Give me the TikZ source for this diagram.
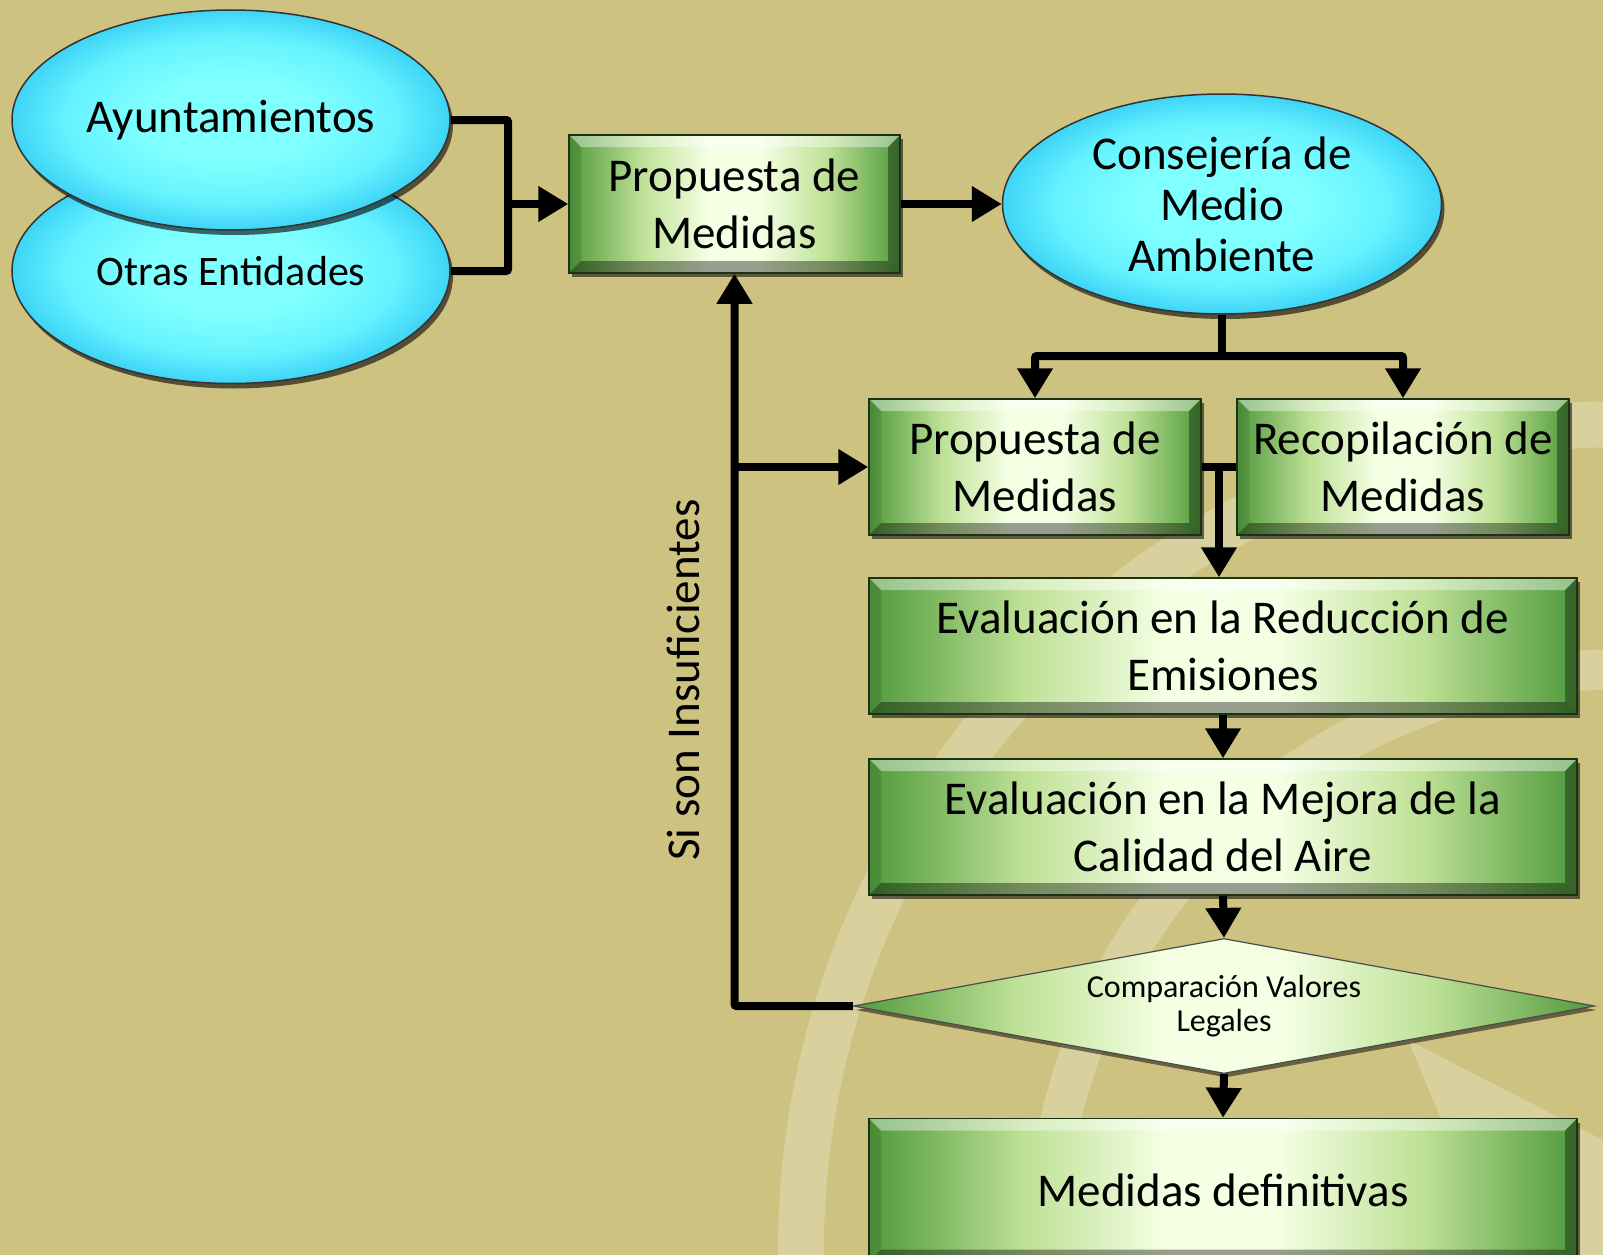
\documentclass[tikz,border=0pt]{standalone}
\usepackage{fontspec}
\setmainfont{Carlito}
\usetikzlibrary{shapes.geometric,arrows.meta,shadows,calc}

\definecolor{bg}{RGB}{205,194,128}
\definecolor{band}{RGB}{216,209,158}
\definecolor{gin}{RGB}{244,255,228}
\definecolor{gmid}{RGB}{190,225,150}
\definecolor{gout}{RGB}{80,154,60}
\definecolor{gedge}{RGB}{28,50,20}
\definecolor{cin}{RGB}{128,255,255}
\definecolor{cmid}{RGB}{100,242,255}
\definecolor{cout}{RGB}{62,212,246}

\pgfdeclarehorizontalshading[gin,gmid,gout]{hglow}{100bp}{color(0bp)=(gout); color(25bp)=(gout); color(36bp)=(gmid); color(46bp)=(gin); color(54bp)=(gin); color(64bp)=(gmid); color(75bp)=(gout); color(100bp)=(gout)}
\pgfdeclareradialshading[cin,cmid,cout]{cglow}{\pgfpoint{0bp}{0bp}}{color(0bp)=(cin); color(10bp)=(cin); color(19bp)=(cmid); color(25bp)=(cout); color(50bp)=(cout)}

\newcommand\bevelbox{%
  \coordinate (bnw) at (path picture bounding box.north west);
  \coordinate (bne) at (path picture bounding box.north east);
  \coordinate (bsw) at (path picture bounding box.south west);
  \coordinate (bse) at (path picture bounding box.south east);
  \fill[white,opacity=.4] (bnw) -- (bne) -- ($(bne)+(-12,12)$) -- ($(bnw)+(12,12)$) -- cycle;
  \fill[black,opacity=.38] (bsw) -- (bse) -- ($(bse)+(-12,-12)$) -- ($(bsw)+(12,-12)$) -- cycle;
  \fill[black,opacity=.35] (bne) -- (bse) -- ($(bse)+(-12,-12)$) -- ($(bne)+(-12,12)$) -- cycle;
  \fill[black,opacity=.1] (bnw) -- (bsw) -- ($(bsw)+(12,-12)$) -- ($(bnw)+(12,12)$) -- cycle;
}

\tikzset{
  greenbox/.style={rectangle, draw=gedge, line width=1.5pt, shade, shading=hglow,
    align=center, font=\fontsize{47}{57}\selectfont, inner sep=0pt,
    drop shadow={shadow xshift=3pt, shadow yshift=-4pt, opacity=0.55, fill=black},
    path picture={\bevelbox}},
  ellip/.style={ellipse, draw=black!80, line width=1.5pt, shade, shading=cglow,
    align=center, inner sep=0pt, font=\fontsize{47}{51}\selectfont,
    drop shadow={shadow xshift=3pt, shadow yshift=-5pt, opacity=0.6, fill=black}},
  diam/.style={diamond, aspect=5.49, draw=black!70, line width=1.2pt, shade, shading=hglow,
    align=center, inner sep=0pt, font=\fontsize{32}{34}\selectfont,
    minimum width=741pt, minimum height=135pt,
    drop shadow={shadow xshift=2pt, shadow yshift=-4pt, opacity=0.5, fill=black}},
  conn/.style={line width=8pt, draw=black, rounded corners=2pt},
  arr/.style={conn, -{Triangle[length=30pt,width=34pt]}},
}

\begin{document}
\begin{tikzpicture}[x=1pt,y=-1pt]
\useasboundingbox (0,0) rectangle (1603,1255);
\clip (0,0) rectangle (1603,1255);
\fill[bg] (0,0) rectangle (1603,1255);
% background decoration
\draw[band, line width=46pt] (1627,1250) circle[radius=826pt];
\draw[band, line width=40pt] (1627,1250) circle[radius=581pt];
\fill[band] (1408,1040) -- (1498,1255) -- (1603,1255) -- (1603,1140) -- cycle;

% nodes
\node[ellip, font=\fontsize{42}{50}\selectfont, minimum width=438pt, minimum height=225pt] (otr) at (231,271) {Otras Entidades};
\node[ellip, minimum width=438pt, minimum height=220pt] (ayu) at (231,120) {Ayuntamientos};
\node[greenbox, minimum width=331pt, minimum height=138pt] (p1) at (734.5,204) {Propuesta de\\Medidas};
\node[ellip, minimum width=439pt, minimum height=220pt] (cma) at (1222,204) {Consejería de\\Medio\\Ambiente};
\node[greenbox, minimum width=332pt, minimum height=136pt] (p2) at (1035,467) {Propuesta de\\Medidas};
\node[greenbox, minimum width=332pt, minimum height=136pt] (rec) at (1403,467) {Recopilación de\\Medidas};
\node[greenbox, minimum width=708pt, minimum height=136pt] (ev1) at (1223,646) {Evaluación en la Reducción de\\Emisiones};
\node[greenbox, minimum width=708pt, minimum height=136pt] (ev2) at (1223,827) {Evaluación en la Mejora de la\\Calidad del Aire};
\node[diam] (dia) at (1224,1006) {Comparación Valores\\Legales};
\node[greenbox, minimum width=708pt, minimum height=143pt] (fin) at (1223,1190) {Medidas definitivas};
\node[rotate=90, font=\fontsize{47}{57}\selectfont, inner sep=0pt] (lab) at (683,680) {Si son Insuficientes};

% connectors
\coordinate (j1) at (508,204);
\draw[conn] (ayu.east) -| (j1);
\draw[conn] (otr.east) -| (j1);
\draw[arr] (j1) -- (p1.west);
\draw[arr] (p1.east) -- (cma.west);
\coordinate (j2) at (1222,356);
\draw[conn] (cma.south) -- (j2);
\draw[arr] (j2) -| (p2.north);
\draw[arr] (j2) -| (rec.north);
\draw[conn] (p2.east) -- (rec.west);
\coordinate (j3) at (1219,467);
\draw[arr] (j3) -- (j3 |- ev1.north);
\draw[arr] (ev1.south) -- (ev2.north);
\draw[arr] (ev2.south) -- (dia.north);
\draw[arr] (dia.south) -- (fin.north);
\draw[arr] (dia.west) -| (p1.south);
\coordinate (j5) at (p1.south |- p2.west);
\draw[arr] (j5) -- (p2.west);
\end{tikzpicture}
\end{document}
